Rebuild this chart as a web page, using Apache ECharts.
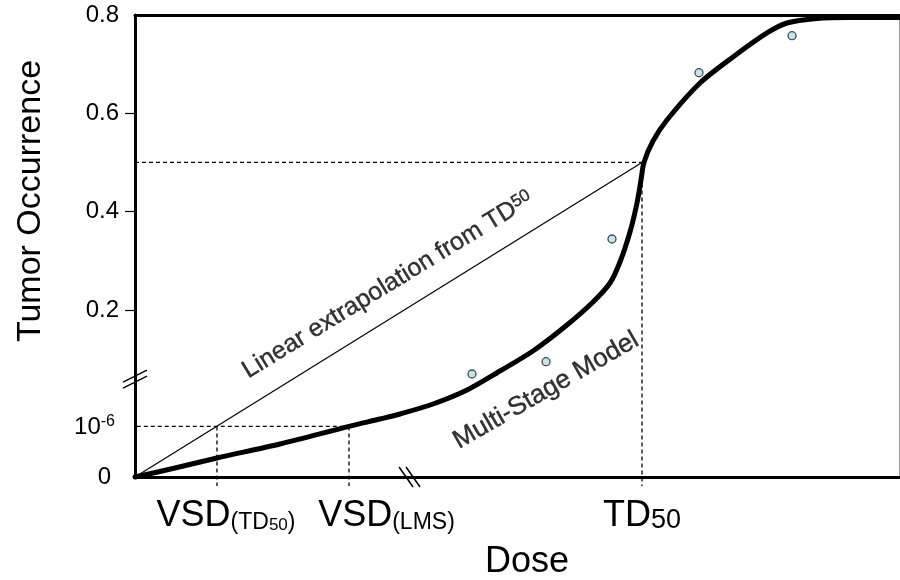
<!DOCTYPE html>
<html>
<head>
<meta charset="utf-8">
<script src="https://cdn.jsdelivr.net/npm/echarts@6/dist/echarts.min.js"></script>
<style>html,body{margin:0;padding:0;background:#fff}#c{width:900px;height:580px}</style>
</head>
<body>
<div id="c"></div>
<script>
// ---- Axis landmarks (internal axis units; the y axis is broken below 0.2) ----
const Y_ZERO = -0.14;      // position of "0" below the break
const Y_1E6 = -0.037;      // position of "10^-6"
const Y_HALF = 0.5;
const TD50 = 66.36;
const VSD_TD50 = 10.73;
const VSD_LMS = 28.01;
const X_BREAK = 36.0;
const Y_BREAK = 0.059;

// ---- Tick labels ----
const yTickPos = [Y_ZERO, Y_1E6, 0.2, 0.4, 0.6, 0.8];
const yTickLabels = ['{z|0}', '{n|10}{sup|-6}', '0.2', '0.4', '0.6', '0.8'];
const yMinorTicks = [0.2, 0.4, 0.6];
const xLabelPos = [11.91, 32.92, 66.36];
const xTickLabels = [
  '{big|VSD}{small|(TD}{tiny|50}{small|)}',
  '{big|VSD}{small|(LMS)}',
  '{big|TD}{mid|50}'
];

// ---- Multi-stage model curve ----
const curveX = [0, 5.24, 10.73, 18.98, 28.01, 32.07, 34.69, 39.01, 43.46, 47.77, 52.09, 56.54, 59.95, 62.17, 63.48, 64.79, 65.71, 66.23, 66.62, 67.80, 69.63, 73.95, 78.27, 82.72, 85.34, 89.27, 93.59, 100];
const curveY = [-0.140, -0.1217, -0.1013, -0.0728, -0.037, -0.0220, -0.0118, 0.0085, 0.0370, 0.0757, 0.1164, 0.1693, 0.2161, 0.2547, 0.2975, 0.3585, 0.4175, 0.4643, 0.5, 0.5436, 0.5864, 0.6616, 0.7145, 0.7634, 0.7837, 0.7930, 0.795, 0.795];

// ---- Observed tumour occurrence points ----
const obsX = [44.11, 53.80, 62.43, 73.82, 86.0];
const obsY = [0.0696, 0.0946, 0.3442, 0.6826, 0.7579];

// ---- Annotation anchors ----
const annotations = [
  { x: 33.1, y: 0.2507, text: 'Linear extrapolation from TD{sup|50}', rotate: 31.5, size: 25 },
  { x: 53.8, y: 0.036, text: 'Multi-Stage Model', rotate: 30, size: 26 }
];

const FONT = '"Liberation Sans", Arial, Helvetica, sans-serif';
const curve = curveX.map((x, i) => [x, curveY[i]]);
const obs = obsX.map((x, i) => [x, obsY[i]]);
const below = Y_ZERO - 0.0185;
const guides = [
  [[0, Y_HALF], [TD50, Y_HALF]],
  [[TD50, Y_HALF], [TD50, below]],
  [[-1.6, Y_1E6], [VSD_LMS, Y_1E6]],
  [[VSD_TD50, Y_1E6], [VSD_TD50, below]],
  [[VSD_LMS, Y_1E6], [VSD_LMS, below]]
];

function nearestIdx(arr, v) {
  let b = 0;
  for (let i = 1; i < arr.length; i++) if (Math.abs(arr[i] - v) < Math.abs(arr[b] - v)) b = i;
  return b;
}

const chart = echarts.init(document.getElementById('c'), null, { renderer: 'canvas' });

const series = [];
guides.forEach(g => series.push({
  type: 'line', data: g, symbol: 'none', clip: false, silent: true, z: 2,
  lineStyle: { color: '#000', width: 1.3, type: [4, 3] }
}));
series.push({
  type: 'line', data: [[0, Y_ZERO], [TD50, Y_HALF]], symbol: 'none', z: 3, clip: false,
  lineStyle: { color: '#000', width: 1.2 }
});
series.push({
  type: 'line', data: curve, symbol: 'none', smooth: 0.3, z: 4, clip: false,
  lineStyle: { color: '#000', width: 5, cap: 'round', join: 'round' }
});
series.push({
  type: 'scatter', data: obs, symbol: 'circle', symbolSize: 8, z: 5,
  itemStyle: { color: '#b5e0e3', borderColor: '#222', borderWidth: 1.3 }
});
annotations.forEach(a => series.push({
  type: 'scatter', data: [[a.x, a.y]], symbolSize: 0, z: 6, silent: true,
  label: {
    show: true, position: 'inside', rotate: a.rotate, formatter: a.text,
    color: '#000', fontSize: a.size, fontFamily: FONT,
    textBorderColor: '#000', textBorderWidth: 0.4,
    rich: { sup: { fontSize: 17, fontFamily: FONT, verticalAlign: 'top', color: '#000', textBorderColor: '#000', textBorderWidth: 0.4 } }
  }
}));
series.push({
  type: 'custom', z: 7, clip: false, silent: true,
  data: [[0, Y_BREAK, 0], [X_BREAK, Y_ZERO, 1]],
  renderItem: function (params, api) {
    const p = api.coord([api.value(0), api.value(1)]);
    const isX = api.value(2) === 1;
    const segs = isX
      ? [[-11, -10, 3, 10], [-4, -10, 10, 10]]
      : [[-12, 9, 12, -3], [-12, 3, 12, -9]];
    return {
      type: 'group',
      children: segs.map(s => ({
        type: 'line',
        shape: { x1: p[0] + s[0], y1: p[1] + s[1], x2: p[0] + s[2], y2: p[1] + s[3] },
        style: { stroke: '#000', lineWidth: 1.5 }
      }))
    };
  }
});

chart.setOption({
  animation: false,
  backgroundColor: '#fff',
  grid: { left: 135, right: 1, top: 15, bottom: 103, containLabel: false, outerBoundsMode: 'none' },
  xAxis: [{
    type: 'value', min: 0, max: 100, position: 'bottom',
    name: 'Dose', nameLocation: 'middle', nameGap: 67,
    nameTextStyle: { fontSize: 36, fontFamily: FONT, color: '#000', padding: [0, 0, 0, 20] },
    axisLine: { show: true, onZero: false, lineStyle: { color: '#000', width: 3 } },
    axisTick: { show: false },
    splitLine: { show: false },
    axisLabel: {
      show: true, customValues: xLabelPos, margin: 21, color: '#000', fontFamily: FONT,
      formatter: function (v) { return xTickLabels[nearestIdx(xLabelPos, v)]; },
      rich: {
        big: { fontSize: 36, fontFamily: FONT, color: '#000', verticalAlign: 'bottom', lineHeight: 36 },
        small: { fontSize: 23, fontFamily: FONT, color: '#000', verticalAlign: 'bottom', lineHeight: 26 },
        tiny: { fontSize: 17, fontFamily: FONT, color: '#000', verticalAlign: 'bottom', lineHeight: 21 },
        mid: { fontSize: 27, fontFamily: FONT, color: '#000', verticalAlign: 'bottom', lineHeight: 29 }
      }
    }
  }, {
    type: 'value', min: 0, max: 100, position: 'top',
    axisLine: { show: true, onZero: false, lineStyle: { color: '#000', width: 3 } },
    axisTick: { show: false }, axisLabel: { show: false }, splitLine: { show: false }
  }],
  yAxis: [{
    type: 'value', min: Y_ZERO, max: 0.8, position: 'left',
    name: 'Tumor Occurrence', nameLocation: 'middle', nameRotate: 90, nameGap: 87,
    nameTextStyle: { fontSize: 34, fontFamily: FONT, color: '#000', padding: [0, 0, 0, 90] },
    axisLine: { show: true, onZero: false, lineStyle: { color: '#000', width: 3 } },
    axisTick: { show: true, customValues: yMinorTicks, length: 10, lineStyle: { color: '#000', width: 1.2 } },
    splitLine: { show: false },
    axisLabel: {
      show: true, customValues: yTickPos, margin: 16, color: '#000', fontSize: 24, fontFamily: FONT,
      formatter: function (v) { return yTickLabels[nearestIdx(yTickPos, v)]; },
      rich: {
        z: { fontSize: 24, fontFamily: FONT, color: '#000', padding: [0, 8, 0, 0] },
        n: { fontSize: 24, fontFamily: FONT, color: '#000', verticalAlign: 'bottom', lineHeight: 25 },
        sup: { fontSize: 16, fontFamily: FONT, color: '#000', verticalAlign: 'top', lineHeight: 25, padding: [0, 4, 0, 0] }
      }
    }
  }, {
    type: 'value', min: Y_ZERO, max: 0.8, position: 'right',
    axisLine: { show: true, onZero: false, lineStyle: { color: '#999', width: 1 } },
    axisTick: { show: false }, axisLabel: { show: false }, splitLine: { show: false }
  }],
  series: series
});
</script>
</body>
</html>
